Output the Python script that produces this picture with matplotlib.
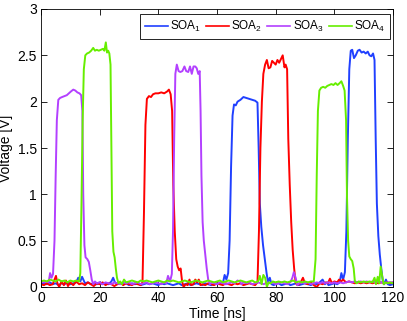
import matplotlib
matplotlib.use("Agg")
import matplotlib.pyplot as plt

plt.rcParams['font.family'] = ['Liberation Sans', 'DejaVu Sans']
plt.rcParams['mathtext.fontset'] = 'custom'
plt.rcParams['mathtext.rm'] = 'Liberation Sans'
plt.rcParams['mathtext.it'] = 'Liberation Sans'
plt.rcParams['mathtext.default'] = 'regular'

labels = ["SOA$_1$", "SOA$_2$", "SOA$_3$", "SOA$_4$"]
colors = ["#2040ff", "#ff0000", "#b340ff", "#66ee00"]
x_ticks = [0, 20, 40, 60, 80, 100, 120]
y_ticks = [0, 0.5, 1, 1.5, 2, 2.5, 3]
y_tick_labels = ["0", "0.5", "1", "1.5", "2", "2.5", "3"]

soa1_t = [0, 1, 2, 3, 4, 5, 6, 7, 8, 9, 10, 11, 12, 12.7, 13.4, 14, 15, 16, 17, 18, 19, 20,
          21, 22, 23, 24, 24.6, 25.2, 26, 27, 28, 29, 30, 31, 32, 33, 34, 35, 36, 37, 38, 39,
          40, 41, 42, 43, 44, 45, 46, 47, 48, 49, 50, 51, 52, 53, 54, 55, 56, 57, 58, 59, 60,
          61, 62, 62.6, 63.2, 63.8, 64.3, 64.8, 65.3, 65.8, 66.4, 67, 68, 69, 70, 71, 72, 73,
          73.8, 74.2, 74.6, 75.1, 75.7, 76.3, 76.9, 77.4, 78, 78.6, 79.3, 80, 81, 82, 83, 84,
          85, 86, 87, 88, 89, 90, 91, 92, 93, 94, 95, 96, 96.8, 97.5, 98, 99, 100, 101, 101.8,
          102.4, 103, 103.6, 104.1, 104.6, 105.1, 105.6, 106.1, 106.7, 107.3, 108, 108.6,
          109.3, 110, 110.7, 111.4, 112, 112.6, 113.2, 113.7, 114.1, 114.5, 115, 115.5, 116,
          116.5, 117, 117.6, 118.2, 119, 120]
soa1_v = [0.03, 0.04, 0.03, 0.05, 0.03, 0.04, 0.02, 0.04, 0.03, 0.05, 0.03, 0.04, 0.05, 0.10,
          0.06, 0.11, 0.04, 0.05, 0.03, 0.04, 0.03, 0.05, 0.03, 0.04, 0.03, 0.06, 0.10, 0.05,
          0.03, 0.04, 0.03, 0.04, 0.02, 0.04, 0.03, 0.04, 0.02, 0.03, 0.04, 0.03, 0.04, 0.03,
          0.02, 0.04, 0.03, 0.04, 0.03, 0.02, 0.03, 0.04, 0.02, 0.03, 0.04, 0.02, 0.03, 0.04,
          0.03, 0.02, 0.04, 0.03, 0.02, 0.03, 0.04, 0.03, 0.04, 0.13, 0.08, 0.15, 0.5, 1.3,
          1.85, 1.97, 1.96, 2.0, 2.02, 2.05, 2.04, 2.03, 2.02, 2.01, 1.99, 1.5, 0.9, 0.65, 0.45,
          0.3, 0.15, 0.05, 0.1, 0.03, 0.02, 0.03, 0.04, 0.02, 0.03, 0.04, 0.02, 0.03, 0.04,
          0.02, 0.03, 0.04, 0.03, 0.02, 0.04, 0.03, 0.05, 0.08, 0.03, 0.05, 0.02, 0.03, 0.04,
          0.03, 0.05, 0.15, 0.08, 0.16, 0.6, 1.6, 2.35, 2.55, 2.56, 2.47, 2.5, 2.55, 2.56,
          2.53, 2.54, 2.52, 2.54, 2.5, 2.49, 2.52, 2.45, 1.6, 0.9, 0.55, 0.35, 0.2, 0.07, 0.03,
          0.08, 0.03, 0.02, 0.03]

soa2_t = [0, 1, 2, 3, 4, 4.6, 5.1, 5.6, 6.2, 7, 7.8, 8.5, 9.2, 10, 11, 12, 13, 14, 15, 16, 17,
          18, 19, 20, 21, 22, 23, 24, 25, 26, 27, 28, 29, 30, 31, 32, 33, 34, 34.6, 35.1, 35.6,
          36.1, 36.8, 37.5, 38.2, 39, 40, 41, 42, 43, 43.6, 44.2, 44.7, 45.1, 45.6, 46.1, 46.6,
          47.1, 47.6, 48.1, 48.6, 49.3, 50, 50.6, 51.2, 52, 52.6, 53.2, 53.8, 54.4, 55, 56, 57,
          58, 59, 60, 61, 62, 63, 64, 65, 66, 67, 68, 69, 70, 71, 72, 73, 73.8, 74.3, 74.8,
          75.3, 75.8, 76.4, 77, 77.6, 78.2, 78.8, 79.4, 80, 80.6, 81.2, 81.8, 82.4, 83, 83.4,
          83.9, 84.3, 84.8, 85.3, 85.8, 86.3, 86.8, 87.4, 88, 88.7, 89.3, 90, 91, 92, 93, 94,
          95, 96, 97, 97.8, 98.5, 99.2, 100, 101, 101.6, 102.3, 103, 104, 105, 106, 107, 108,
          109, 110, 111, 112, 113, 114, 115, 116, 117, 118, 119, 120]
soa2_v = [0.03, 0.02, 0.04, 0.02, 0.03, 0.08, 0.12, 0.04, 0.0, 0.06, 0.02, 0.07, 0.01, 0.05,
          0.02, 0.06, 0.03, 0.04, 0.02, 0.05, 0.03, 0.01, 0.04, 0.03, 0.05, 0.02, 0.04, 0.03,
          0.01, 0.03, 0.05, 0.02, 0.04, 0.03, 0.02, 0.04, 0.03, 0.02, 0.05, 0.8, 1.75, 2.03,
          2.06, 2.05, 2.08, 2.09, 2.09, 2.1, 2.09, 2.11, 2.13, 2.08, 1.9, 1.1, 0.6, 0.3, 0.22,
          0.18, 0.2, 0.06, 0.0, 0.03, 0.02, 0.08, 0.02, 0.03, 0.08, 0.05, 0.08, 0.02, 0.03,
          0.02, 0.04, 0.03, 0.02, 0.04, 0.03, 0.02, 0.04, 0.03, 0.02, 0.04, 0.03, 0.04, 0.02,
          0.03, 0.04, 0.03, 0.02, 0.05, 0.6, 1.5, 2.0, 2.3, 2.4, 2.45, 2.36, 2.37, 2.44, 2.42,
          2.4, 2.45, 2.42, 2.46, 2.5, 2.37, 2.4, 2.35, 1.6, 1.1, 0.7, 0.4, 0.2, 0.05, 0.02,
          0.03, 0.06, 0.1, 0.04, 0.03, 0.05, 0.02, 0.0, 0.04, 0.03, 0.05, 0.04, 0.09, 0.04,
          0.06, 0.05, 0.08, 0.06, 0.08, 0.05, 0.06, 0.05, 0.04, 0.05, 0.04, 0.05, 0.04, 0.05,
          0.04, 0.05, 0.04, 0.05, 0.04, 0.05, 0.04, 0.05]

soa3_t = [0, 1, 2, 2.6, 3.1, 3.6, 4.1, 4.6, 5.0, 5.4, 5.9, 6.5, 7.2, 8, 8.8, 9.5, 10.2, 11,
          11.7, 12.4, 13.1, 13.7, 14.1, 14.4, 14.8, 15.2, 15.8, 16.3, 16.8, 17.3, 17.8, 18.4,
          19, 20, 21, 22, 23, 24, 25, 26, 27, 28, 29, 30, 31, 32, 33, 34, 35, 36, 37, 38, 39,
          40, 41, 42, 42.7, 43.3, 44, 44.6, 45, 45.4, 45.8, 46.3, 46.9, 47.5, 48.2, 48.9, 49.5,
          50.2, 50.8, 51.4, 52, 52.6, 53.1, 53.6, 54.1, 54.4, 54.7, 55.1, 55.5, 56, 56.5, 57,
          57.6, 58.3, 59, 60, 61, 62, 63, 64, 65, 66, 67, 67.7, 68.4, 69, 70, 71, 72, 73, 74,
          75, 76, 77, 78, 79, 80, 81, 82, 83, 84, 85, 85.7, 86.2, 86.8, 87.4, 88, 89, 90, 91,
          92, 93, 94, 95, 96, 97, 98, 99, 100, 101, 102, 103, 104, 105, 106, 107, 108, 109,
          110, 111, 112, 113, 114, 115, 116, 117, 118, 119, 120]
soa3_v = [0.06, 0.05, 0.06, 0.05, 0.15, 0.1, 0.14, 0.5, 1.2, 1.8, 2.02, 2.04, 2.05, 2.06,
          2.07, 2.09, 2.11, 2.13, 2.12, 2.1, 2.09, 2.07, 1.9, 1.0, 0.45, 0.32, 0.3, 0.27, 0.18,
          0.08, 0.03, 0.06, 0.04, 0.05, 0.03, 0.05, 0.04, 0.03, 0.05, 0.04, 0.03, 0.05, 0.04,
          0.05, 0.03, 0.04, 0.05, 0.03, 0.04, 0.05, 0.03, 0.04, 0.05, 0.04, 0.03, 0.05, 0.04,
          0.12, 0.06, 0.14, 0.6, 1.6, 2.3, 2.4, 2.33, 2.32, 2.33, 2.38, 2.33, 2.32, 2.38, 2.3,
          2.38, 2.38, 2.36, 2.3, 2.33, 1.9, 1.2, 0.7, 0.5, 0.35, 0.2, 0.08, 0.03, 0.05, 0.04,
          0.03, 0.05, 0.04, 0.03, 0.04, 0.05, 0.04, 0.07, 0.06, 0.03, 0.05, 0.04, 0.05, 0.03,
          0.04, 0.05, 0.04, 0.03, 0.05, 0.04, 0.05, 0.03, 0.04, 0.05, 0.04, 0.03, 0.05, 0.1,
          0.16, 0.1, 0.02, 0.04, 0.05, 0.04, 0.05, 0.03, 0.04, 0.05, 0.04, 0.05, 0.04, 0.05,
          0.04, 0.05, 0.04, 0.05, 0.04, 0.05, 0.06, 0.05, 0.06, 0.05, 0.06, 0.05, 0.06, 0.05,
          0.06, 0.05, 0.06, 0.05, 0.04, 0.05, 0.05, 0.05]

soa4_t = [0, 1, 2, 3, 4, 5, 6, 7, 8, 9, 10, 11, 12, 13, 13.4, 13.8, 14.2, 14.6, 15.1, 15.7,
          16.4, 17.1, 17.8, 18.4, 19, 19.7, 20.4, 21.1, 21.6, 22.1, 22.5, 22.9, 23.3, 23.7, 24,
          24.3, 24.7, 25.1, 25.5, 25.9, 26.4, 27, 27.6, 28.3, 29, 30, 31, 32, 33, 34, 35, 36,
          37, 38, 39, 40, 41, 42, 43, 44, 45, 46, 47, 48, 49, 50, 51, 52, 53, 54, 55, 56, 57,
          58, 59, 60, 61, 62, 63, 64, 65, 66, 67, 68, 69, 70, 71, 72, 73, 74, 74.6, 75.2, 75.8,
          76.4, 77, 77.6, 78.3, 79, 80, 81, 82, 83, 84, 85, 86, 87, 88, 89, 90, 91, 92, 93,
          93.6, 94, 94.4, 94.9, 95.5, 96.2, 96.9, 97.6, 98.3, 99, 99.7, 100.4, 101.1, 101.8,
          102.4, 103, 103.5, 104, 104.3, 104.7, 105.1, 105.6, 106.1, 106.6, 107, 107.6, 108.3,
          109, 110, 111, 112, 113, 113.7, 114.2, 114.8, 115.3, 115.8, 116.3, 116.8, 117.5,
          118.2, 119, 120]
soa4_v = [0.06, 0.07, 0.06, 0.08, 0.07, 0.06, 0.08, 0.06, 0.07, 0.05, 0.07, 0.06, 0.07, 0.06,
          0.15, 0.9, 1.8, 2.35, 2.5, 2.52, 2.53, 2.55, 2.58, 2.55, 2.56, 2.55, 2.56, 2.57, 2.55,
          2.64, 2.53, 2.55, 2.52, 2.4, 1.5, 0.6, 0.38, 0.32, 0.2, 0.1, 0.04, 0.06, 0.03, 0.08,
          0.05, 0.06, 0.07, 0.06, 0.05, 0.07, 0.06, 0.07, 0.06, 0.05, 0.06, 0.07, 0.06, 0.05,
          0.07, 0.06, 0.07, 0.06, 0.05, 0.06, 0.07, 0.06, 0.05, 0.06, 0.07, 0.06, 0.05, 0.06,
          0.07, 0.06, 0.05, 0.06, 0.07, 0.05, 0.06, 0.07, 0.06, 0.05, 0.06, 0.07, 0.06, 0.05,
          0.06, 0.07, 0.05, 0.06, 0.12, 0.03, 0.13, 0.1, 0.0, 0.05, 0.04, 0.06, 0.05, 0.06,
          0.05, 0.06, 0.05, 0.06, 0.07, 0.05, 0.06, 0.05, 0.06, 0.05, 0.06, 0.06, 0.3, 1.2, 1.9,
          2.12, 2.15, 2.16, 2.15, 2.17, 2.18, 2.19, 2.18, 2.2, 2.18, 2.2, 2.22, 2.17, 2.12, 1.8,
          1.0, 0.5, 0.33, 0.3, 0.28, 0.2, 0.06, 0.04, 0.06, 0.05, 0.06, 0.05, 0.06, 0.05, 0.1,
          0.03, 0.11, 0.04, 0.22, 0.12, 0.03, 0.05, 0.04, 0.05, 0.04]

series_t = [soa1_t, soa2_t, soa3_t, soa4_t]
series_v = [soa1_v, soa2_v, soa3_v, soa4_v]

fig = plt.figure(figsize=(4.07, 3.21), dpi=100)
ax = fig.add_axes([41 / 407, 1 - 287 / 321, 352 / 407, 278 / 321])

for t, v, c, lab in zip(series_t, series_v, colors, labels):
    ax.plot(t, v, color=c, lw=1.4, label=lab)

ax.set_xlim(0, 120)
ax.set_ylim(0, 3)
ax.set_xticks(x_ticks)
ax.set_yticks(y_ticks)
ax.set_yticklabels(y_tick_labels)
ax.tick_params(direction='in', top=True, right=True, length=4, width=0.6,
               labelsize=10, pad=3)
for s in ax.spines.values():
    s.set_linewidth(0.6)
ax.set_xlabel("Time [ns]", fontsize=10, labelpad=1)
ax.set_ylabel("Voltage [V]", fontsize=10, labelpad=3)

leg = ax.legend(loc='upper right', bbox_to_anchor=((390 - 41) / 352, (287 - 14) / 278),
                ncol=4, fontsize=8.5, handlelength=1.95, handletextpad=0.2,
                columnspacing=0.4, borderpad=0.4, borderaxespad=0.0,
                fancybox=False, framealpha=1)
leg.get_frame().set_edgecolor('black')
leg.get_frame().set_linewidth(0.6)
for line in leg.get_lines():
    line.set_linewidth(1.2)

fig.savefig("out.png", dpi=100)
